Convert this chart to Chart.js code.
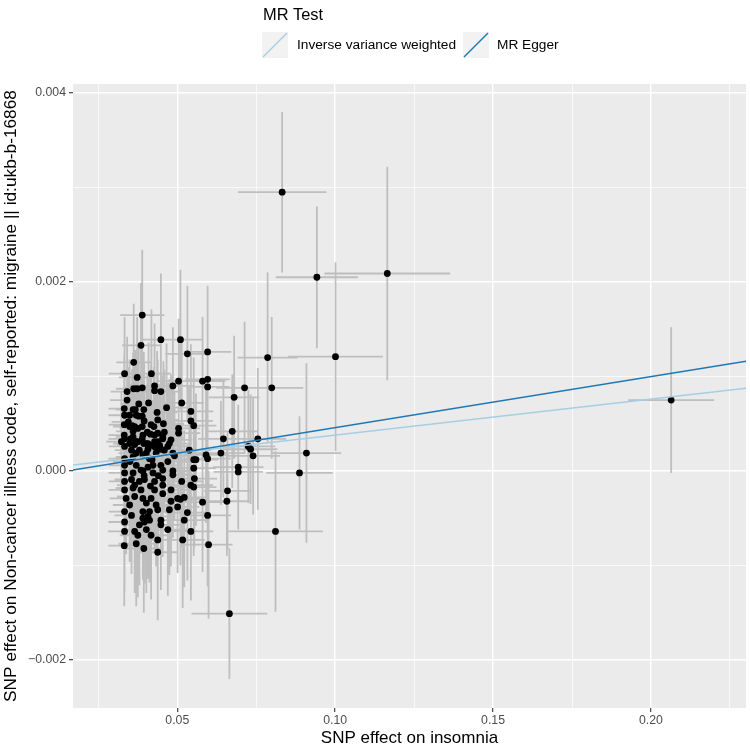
<!DOCTYPE html>
<html>
<head>
<meta charset="utf-8">
<title>MR scatter plot</title>
<script src="https://cdn.jsdelivr.net/npm/chart.js@4.4.1/dist/chart.umd.min.js"></script>
<style>
  html, body { margin: 0; padding: 0; background: #ffffff; }
  #wrap { width: 750px; height: 749px; }
</style>
</head>
<body>
<div id="wrap"><canvas id="grafico" width="750" height="749"></canvas></div>
<script>
// -------- DADOS --------
const xTitle = "SNP effect on insomnia";
const yTitle = "SNP effect on Non-cancer illness code, self-reported: migraine || id:ukb-b-16868";
const legendTitle = "MR Test";
const testNames = ["Inverse variance weighted", "MR Egger"];
const testColors = ["#A6CEE3", "#1F78B4"];
const testSlopes = [0.00380, 0.00540];
const testIntercepts = [0, -0.00008];

const xMajor = [0.05, 0.10, 0.15, 0.20];
const xMinor = [0.025, 0.075, 0.125, 0.175, 0.225];
const yMajor = [-0.002, 0, 0.002, 0.004];
const yMinor = [-0.001, 0.001, 0.003];
const xLimits = [0.01697, 0.2301];
const yLimits = [-0.002508, 0.004095];

// efeito do SNP na insonia (x) e na enxaqueca (y), com erros padrao
const snpX = [
  0.0832, 0.0942, 0.1165, 0.2064, 0.1001, 0.0786, 0.0799, 0.0665, 0.0811, 0.0909,
  0.0887, 0.0755, 0.0713, 0.0680, 0.0674, 0.0646, 0.0725, 0.0732, 0.0740, 0.0693,
  0.0693, 0.0638, 0.0659, 0.0657, 0.0596, 0.0532, 0.0510, 0.0448, 0.0389, 0.0385,
  0.0362, 0.0333, 0.0373, 0.0418, 0.0504, 0.0486, 0.0580, 0.0596, 0.0596, 0.0341,
  0.0362, 0.0373, 0.0389, 0.0428, 0.0428, 0.0448, 0.0341, 0.0514, 0.0378, 0.0409,
  0.0332, 0.0360, 0.0367, 0.0394, 0.0466, 0.0436, 0.0543, 0.0333, 0.0349, 0.0370,
  0.0378, 0.0389, 0.0438, 0.0543, 0.0552, 0.0332, 0.0349, 0.0357, 0.0365, 0.0389,
  0.0417, 0.0426, 0.0456, 0.0504, 0.0504, 0.0360, 0.0405, 0.0415, 0.0459, 0.0332,
  0.0360, 0.0391, 0.0428, 0.0454, 0.0438, 0.0323, 0.0333, 0.0352, 0.0370, 0.0389,
  0.0394, 0.0407, 0.0428, 0.0454, 0.0475, 0.0480, 0.0349, 0.0375, 0.0402, 0.0438,
  0.0470, 0.0355, 0.0380, 0.0407, 0.0448, 0.0333, 0.0365, 0.0418, 0.0444, 0.0333,
  0.0360, 0.0391, 0.0412, 0.0491, 0.0370, 0.0402, 0.0433, 0.0486, 0.0459, 0.0591,
  0.0596, 0.0559, 0.0552, 0.0538, 0.0333, 0.0370, 0.0385, 0.0407, 0.0423, 0.0448,
  0.0333, 0.0360, 0.0391, 0.0423, 0.0454, 0.0486, 0.0486, 0.0552, 0.0554, 0.0333,
  0.0355, 0.0380, 0.0396, 0.0428, 0.0454, 0.0514, 0.0543, 0.0552, 0.0333, 0.0360,
  0.0385, 0.0428, 0.0454, 0.0338, 0.0365, 0.0391, 0.0417, 0.0454, 0.0522, 0.0510,
  0.0580, 0.0349, 0.0402, 0.0433, 0.0480, 0.0501, 0.0333, 0.0355, 0.0391, 0.0412,
  0.0438, 0.0475, 0.0532, 0.0596, 0.0333, 0.0396, 0.0448, 0.0522, 0.0380, 0.0412,
  0.0333, 0.0365, 0.0402, 0.0448, 0.0543, 0.0375, 0.0417, 0.0470, 0.0517, 0.0332,
  0.0370, 0.0394, 0.0438, 0.0599, 0.0438, 0.0391, 0.0407, 0.0501, 0.0375, 0.0420,
  0.0395, 0.0350, 0.0440, 0.0365, 0.0415, 0.0470, 0.0480, 0.0345, 0.0395, 0.0430
];
const snpY = [
  0.00295, 0.00205, 0.00209, 0.00075, 0.00121, 0.00120, 0.00088, -0.00151, -0.00064, 0.00019,
  -0.00002, 0.00034, 0.00088, 0.00078, 0.00042, 0.00034, 0.00026, 0.00023, 0.00016, 0.00004,
  -0.00001, 0.00019, -0.00021, -0.00032, 0.00126, 0.00124, 0.00139, 0.00139, 0.00165, 0.00133,
  0.00115, 0.00103, 0.00099, 0.00103, 0.00095, 0.00090, 0.00095, 0.00097, 0.00089, 0.00084,
  0.00087, 0.00087, 0.00088, 0.00090, 0.00085, 0.00084, 0.00075, 0.00072, 0.00071, 0.00072,
  0.00066, 0.00065, 0.00065, 0.00065, 0.00067, 0.00062, 0.00063, 0.00059, 0.00059, 0.00059,
  0.00058, 0.00058, 0.00054, 0.00053, 0.00048, 0.00049, 0.00047, 0.00048, 0.00047, 0.00047,
  0.00049, 0.00047, 0.00050, 0.00045, 0.00040, 0.00042, 0.00041, 0.00039, 0.00041, 0.00038,
  0.00036, 0.00038, 0.00038, 0.00036, 0.00040, 0.00031, 0.00034, 0.00034, 0.00031, 0.00034,
  0.00029, 0.00029, 0.00031, 0.00034, 0.00029, 0.00033, 0.00029, 0.00031, 0.00029, 0.00031,
  0.00026, 0.00022, 0.00022, 0.00023, 0.00023, 0.00026, 0.00028, 0.00027, 0.00027, 0.00013,
  0.00015, 0.00017, 0.00013, 0.00016, 0.00019, 0.00019, 0.00019, 0.00019, 0.00022, 0.00017,
  0.00013, 0.00012, 0.00012, 0.00022, 0.00006, 0.00006, 0.00001, 0.00004, 0.00006, 0.00006,
  -0.00002, -0.00002, 0.00000, -0.00002, 0.00001, 0.00000, -0.00004, 0.00003, -0.00008, -0.00011,
  -0.00009, -0.00011, -0.00009, -0.00011, -0.00008, -0.00011, -0.00015, -0.00017, -0.00020, -0.00018,
  -0.00020, -0.00020, -0.00015, -0.00029, -0.00027, -0.00029, -0.00029, -0.00024, -0.00028, -0.00030,
  -0.00033, -0.00036, -0.00034, -0.00036, -0.00032, -0.00038, -0.00043, -0.00047, -0.00043, -0.00043,
  -0.00041, -0.00041, -0.00044, -0.00047, -0.00054, -0.00054, -0.00052, -0.00052, -0.00057, -0.00052,
  -0.00064, -0.00064, -0.00062, -0.00057, -0.00064, -0.00068, -0.00068, -0.00062, -0.00073, -0.00079,
  -0.00077, -0.00082, -0.00073, -0.00078, -0.00086, -0.00050, -0.00048, -0.00029, 0.00045, 0.00012,
  -0.00005, 0.00010, -0.00005, -0.00015, -0.00016, 0.00010, -0.00020, 0.00052, 0.00053, 0.00025
];
const seX = [
  0.0140, 0.0130, 0.0199, 0.0136, 0.0150, 0.0095, 0.0100, 0.0120, 0.0150, 0.0110,
  0.0105, 0.0090, 0.0090, 0.0080, 0.0080, 0.0080, 0.0085, 0.0085, 0.0085, 0.0080,
  0.0078, 0.0075, 0.0075, 0.0072, 0.0075, 0.0070, 0.0068, 0.0065, 0.0070, 0.0060,
  0.0055, 0.0050, 0.0058, 0.0062, 0.0066, 0.0064, 0.0072, 0.0070, 0.0068, 0.0052,
  0.0056, 0.0060, 0.0058, 0.0064, 0.0062, 0.0066, 0.0054, 0.0070, 0.0057, 0.0061,
  0.0050, 0.0055, 0.0058, 0.0060, 0.0066, 0.0063, 0.0071, 0.0051, 0.0054, 0.0058,
  0.0057, 0.0060, 0.0064, 0.0070, 0.0072, 0.0049, 0.0053, 0.0056, 0.0055, 0.0059,
  0.0061, 0.0063, 0.0065, 0.0068, 0.0069, 0.0054, 0.0060, 0.0062, 0.0066, 0.0050,
  0.0055, 0.0059, 0.0062, 0.0065, 0.0063, 0.0048, 0.0051, 0.0053, 0.0057, 0.0058,
  0.0060, 0.0061, 0.0064, 0.0066, 0.0067, 0.0068, 0.0052, 0.0056, 0.0060, 0.0063,
  0.0066, 0.0053, 0.0057, 0.0060, 0.0064, 0.0050, 0.0056, 0.0061, 0.0064, 0.0051,
  0.0055, 0.0058, 0.0062, 0.0068, 0.0056, 0.0059, 0.0063, 0.0067, 0.0065, 0.0072,
  0.0073, 0.0070, 0.0071, 0.0069, 0.0050, 0.0056, 0.0058, 0.0061, 0.0062, 0.0064,
  0.0051, 0.0054, 0.0059, 0.0062, 0.0065, 0.0068, 0.0067, 0.0071, 0.0072, 0.0050,
  0.0054, 0.0057, 0.0060, 0.0063, 0.0065, 0.0069, 0.0070, 0.0072, 0.0051, 0.0055,
  0.0058, 0.0062, 0.0066, 0.0052, 0.0056, 0.0059, 0.0061, 0.0065, 0.0070, 0.0069,
  0.0073, 0.0053, 0.0060, 0.0063, 0.0068, 0.0069, 0.0050, 0.0054, 0.0059, 0.0061,
  0.0064, 0.0067, 0.0071, 0.0074, 0.0051, 0.0060, 0.0064, 0.0070, 0.0057, 0.0061,
  0.0052, 0.0056, 0.0060, 0.0064, 0.0071, 0.0057, 0.0062, 0.0066, 0.0070, 0.0050,
  0.0056, 0.0059, 0.0064, 0.0076, 0.0064, 0.0059, 0.0061, 0.0069, 0.0058, 0.0062,
  0.0060, 0.0054, 0.0064, 0.0056, 0.0061, 0.0066, 0.0067, 0.0053, 0.0059, 0.0063
];
const seY = [
  0.00085, 0.00075, 0.00113, 0.00077, 0.00100, 0.00090, 0.00075, 0.00069, 0.00085, 0.00095,
  0.00060, 0.00075, 0.00070, 0.00065, 0.00060, 0.00062, 0.00060, 0.00058, 0.00062, 0.00066,
  0.00060, 0.00055, 0.00062, 0.00058, 0.00070, 0.00072, 0.00074, 0.00070, 0.00069, 0.00066,
  0.00062, 0.00060, 0.00064, 0.00068, 0.00066, 0.00062, 0.00068, 0.00072, 0.00066, 0.00058,
  0.00061, 0.00064, 0.00060, 0.00066, 0.00063, 0.00067, 0.00059, 0.00070, 0.00062, 0.00064,
  0.00057, 0.00060, 0.00063, 0.00061, 0.00068, 0.00065, 0.00071, 0.00056, 0.00059, 0.00062,
  0.00058, 0.00061, 0.00064, 0.00069, 0.00072, 0.00055, 0.00058, 0.00060, 0.00059, 0.00062,
  0.00064, 0.00063, 0.00066, 0.00068, 0.00070, 0.00058, 0.00062, 0.00063, 0.00066, 0.00054,
  0.00057, 0.00060, 0.00063, 0.00065, 0.00064, 0.00053, 0.00056, 0.00058, 0.00060, 0.00061,
  0.00062, 0.00063, 0.00064, 0.00066, 0.00068, 0.00069, 0.00057, 0.00059, 0.00062, 0.00064,
  0.00067, 0.00058, 0.00060, 0.00062, 0.00066, 0.00055, 0.00059, 0.00063, 0.00065, 0.00056,
  0.00058, 0.00061, 0.00063, 0.00069, 0.00060, 0.00062, 0.00064, 0.00068, 0.00066, 0.00072,
  0.00074, 0.00070, 0.00071, 0.00069, 0.00055, 0.00059, 0.00060, 0.00062, 0.00063, 0.00065,
  0.00056, 0.00058, 0.00061, 0.00063, 0.00066, 0.00068, 0.00067, 0.00071, 0.00073, 0.00057,
  0.00059, 0.00060, 0.00062, 0.00064, 0.00066, 0.00070, 0.00071, 0.00073, 0.00058, 0.00060,
  0.00062, 0.00064, 0.00067, 0.00059, 0.00061, 0.00063, 0.00064, 0.00067, 0.00071, 0.00070,
  0.00074, 0.00060, 0.00063, 0.00065, 0.00069, 0.00070, 0.00061, 0.00062, 0.00064, 0.00066,
  0.00067, 0.00069, 0.00072, 0.00075, 0.00062, 0.00065, 0.00068, 0.00071, 0.00064, 0.00066,
  0.00063, 0.00065, 0.00067, 0.00069, 0.00073, 0.00066, 0.00068, 0.00070, 0.00072, 0.00064,
  0.00066, 0.00068, 0.00070, 0.00078, 0.00072, 0.00065, 0.00066, 0.00070, 0.00062, 0.00063,
  0.00061, 0.00059, 0.00064, 0.00062, 0.00063, 0.00066, 0.00068, 0.00058, 0.00061, 0.00063
];

// -------- MONTAGEM --------
const FONTE = "'Liberation Sans', Arial, Helvetica, sans-serif";

function ehMaior(v, lista) {
  return lista.some((m) => Math.abs(m - v) < 1e-9);
}

const pontos = snpX.map((x, i) => ({ x: x, y: snpY[i] }));

// barras de erro como segmentos separados por pontos nulos
const barrasH = [];
const barrasV = [];
snpX.forEach((x, i) => {
  const y = snpY[i];
  barrasH.push({ x: x - seX[i], y: y }, { x: x + seX[i], y: y }, { x: x, y: null });
  barrasV.push({ x: x, y: y - seY[i] }, { x: x, y: y + seY[i] }, { x: x, y: null });
});

const retas = testNames.map((nome, k) => ({
  type: "line",
  label: nome,
  data: xLimits.map((x) => ({ x: x, y: testIntercepts[k] + testSlopes[k] * x })),
  borderColor: testColors[k],
  borderWidth: 1.5,
  pointRadius: 0,
  fill: false
})).reverse(); // Egger por cima

// fundo do painel
const painelFundo = {
  id: "painelFundo",
  beforeDraw(chart) {
    const { ctx, chartArea: a } = chart;
    ctx.save();
    ctx.fillStyle = "#EBEBEB";
    ctx.fillRect(a.left, a.top, a.right - a.left, a.bottom - a.top);
    ctx.restore();
  }
};

// legenda no estilo ggplot
const legendaGG = {
  id: "legendaGG",
  afterDraw(chart) {
    const ctx = chart.ctx;
    ctx.save();
    ctx.fillStyle = "#000000";
    ctx.font = "16.4px " + FONTE;
    ctx.textBaseline = "middle";
    ctx.textAlign = "left";
    ctx.fillText(legendTitle, 263, 15);

    const chaves = [262, 463];
    const textos = [297, 497];
    testNames.forEach((nome, k) => {
      const kx = chaves[k], ky = 32, tam = 26;
      ctx.fillStyle = "#F2F2F2";
      ctx.fillRect(kx, ky, tam, tam);
      ctx.strokeStyle = testColors[k];
      ctx.lineWidth = 1.5;
      ctx.beginPath();
      ctx.moveTo(kx + 1, ky + tam - 1);
      ctx.lineTo(kx + tam - 1, ky + 1);
      ctx.stroke();
      ctx.fillStyle = "#000000";
      ctx.font = "13.7px " + FONTE;
      ctx.fillText(nome, textos[k], ky + tam / 2);
    });
    ctx.restore();
  }
};

const ctx = document.getElementById("grafico").getContext("2d");
const chart = new Chart(ctx, {
  type: "scatter",
  data: {
    datasets: [
      ...retas,
      {
        label: "SNPs",
        data: pontos,
        backgroundColor: "#000000",
        borderColor: "#000000",
        borderWidth: 0,
        pointRadius: 3.4
      },
      {
        label: "erroV",
        type: "line",
        data: barrasV,
        borderColor: "#BEBEBE",
        borderWidth: 1.8,
        pointRadius: 0,
        spanGaps: false
      },
      {
        label: "erroH",
        type: "line",
        data: barrasH,
        borderColor: "#BEBEBE",
        borderWidth: 1.8,
        pointRadius: 0,
        spanGaps: false
      }
    ]
  },
  options: {
    responsive: false,
    animation: false,
    events: [],
    layout: { padding: { top: 84, left: 0, right: 0, bottom: 0 } },
    plugins: {
      legend: { display: false },
      tooltip: { enabled: false }
    },
    scales: {
      x: {
        type: "linear",
        min: xLimits[0],
        max: xLimits[1],
        afterBuildTicks: (s) => {
          s.ticks = [...xMajor, ...xMinor].sort((a, b) => a - b).map((v) => ({ value: v }));
        },
        afterFit: (s) => { s.height = 41; },
        border: { display: false },
        grid: {
          color: "#FFFFFF",
          lineWidth: (c) => (ehMaior(c.tick.value, xMajor) ? 1.4 : 0.7),
          tickColor: (c) => (ehMaior(c.tick.value, xMajor) ? "#333333" : "rgba(0,0,0,0)"),
          tickLength: 4,
          tickWidth: 1.1
        },
        ticks: {
          autoSkip: false,
          maxRotation: 0,
          padding: 1,
          color: "#4D4D4D",
          font: { family: FONTE, size: 12.3 },
          callback: (v) => (ehMaior(v, xMajor) ? v.toFixed(2) : "")
        },
        title: {
          display: true,
          text: xTitle,
          color: "#000000",
          font: { family: FONTE, size: 17 },
          padding: { top: 0, bottom: 0 }
        }
      },
      y: {
        type: "linear",
        min: yLimits[0],
        max: yLimits[1],
        afterBuildTicks: (s) => {
          s.ticks = [...yMajor, ...yMinor].sort((a, b) => a - b).map((v) => ({ value: v }));
        },
        afterFit: (s) => { s.width = 73; },
        border: { display: false },
        grid: {
          color: "#FFFFFF",
          lineWidth: (c) => (ehMaior(c.tick.value, yMajor) ? 1.4 : 0.7),
          tickColor: (c) => (ehMaior(c.tick.value, yMajor) ? "#333333" : "rgba(0,0,0,0)"),
          tickLength: 4,
          tickWidth: 1.1
        },
        ticks: {
          autoSkip: false,
          padding: 3,
          color: "#4D4D4D",
          font: { family: FONTE, size: 12.3 },
          callback: (v) => (ehMaior(v, yMajor) ? v.toFixed(3).replace("-", "\u2212") : "")
        },
        title: {
          display: true,
          text: yTitle,
          color: "#000000",
          font: { family: FONTE, size: 17.3 },
          padding: { top: 1, bottom: 0 }
        }
      }
    }
  },
  plugins: [painelFundo, legendaGG]
});
</script>
</body>
</html>
